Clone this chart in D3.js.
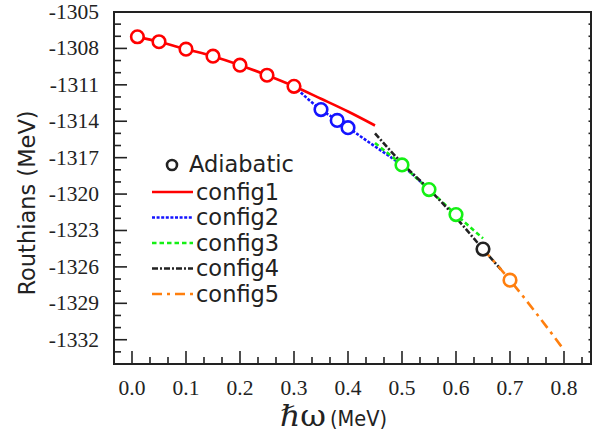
<!DOCTYPE html>
<html>
<head>
<meta charset="utf-8">
<script src="https://cdn.jsdelivr.net/npm/d3@7"></script>
<style>
  body { margin: 0; background: #fff; }
  svg { display: block; }
</style>
</head>
<body>
<div id="content"></div>
<script>
const width = 604;
const height = 432;

// config curves (hbar-omega in MeV, Routhian in MeV)
const config1 = [[0.01, -1307.05], [0.05, -1307.45], [0.1, -1308.06], [0.15, -1308.64], [0.2, -1309.38],
  [0.25, -1310.21], [0.3, -1311.12], [0.35, -1312.15], [0.4, -1313.2], [0.45, -1314.35]];
const config2 = [[0.3, -1311.12], [0.35, -1313.04], [0.38, -1313.93], [0.4, -1314.53], [0.45, -1316.08],
  [0.5, -1317.64], [0.55, -1319.63]];
const config3 = [[0.45, -1315.8], [0.5, -1317.6], [0.55, -1319.63], [0.6, -1321.69], [0.65, -1323.65]];
const config4 = [[0.45, -1315.0], [0.5, -1317.45], [0.55, -1319.6], [0.6, -1321.95], [0.65, -1324.53], [0.683, -1326.2]];
const config5 = [[0.65, -1324.53], [0.7, -1327.09], [0.75, -1329.9], [0.8, -1332.85]];

// adiabatic points with the config they belong to
const adiabatic = [
  [0.01, -1307.04, 'config1'], [0.05, -1307.45, 'config1'], [0.1, -1308.06, 'config1'],
  [0.15, -1308.64, 'config1'], [0.2, -1309.38, 'config1'], [0.25, -1310.21, 'config1'],
  [0.3, -1311.12, 'config1'],
  [0.35, -1313.04, 'config2'], [0.38, -1313.93, 'config2'], [0.4, -1314.53, 'config2'],
  [0.5, -1317.6, 'config3'], [0.55, -1319.63, 'config3'], [0.6, -1321.69, 'config3'],
  [0.65, -1324.53, 'config4'],
  [0.7, -1327.09, 'config5']
];

const xTicks = [0, 0.1, 0.2, 0.3, 0.4, 0.5, 0.6, 0.7, 0.8];
const yTicks = [-1305, -1308, -1311, -1314, -1317, -1320, -1323, -1326, -1329, -1332];

const series = [
  { name: 'config1', data: config1, color: '#ff0000', dash: null },
  { name: 'config2', data: config2, color: '#1414ff', dash: '3,1.6' },
  { name: 'config3', data: config3, color: '#14f014', dash: '4.5,3' },
  { name: 'config4', data: config4, color: '#222222', dash: '6,2,2,2' },
  { name: 'config5', data: config5, color: '#ff7f0e', dash: '10,5,3,5' }
];
const colorOf = {};
series.forEach((s) => { colorOf[s.name] = s.color; });

const plotLeft = 114;
const plotRight = 591;
const plotTop = 12;
const plotBottom = 364;
const frameColor = '#222';

const x = d3.scaleLinear().domain([-1 / 30, 0.85]).range([plotLeft, plotRight]);
const y = d3.scaleLinear().domain([-1334, -1305]).range([plotBottom, plotTop]);

const svg = d3.select('#content')
  .append('svg')
  .attr('width', width)
  .attr('height', height);

// minor ticks
const xMinor = d3.range(-1, 26).map(i => i / 30).filter(v => v > -0.034 && v < 0.85);
const yMinor = d3.range(-1333, -1305);

const ticks = svg.append('g').attr('stroke', frameColor).attr('stroke-width', 1.6);
ticks.selectAll('.xminor')
  .data(xMinor)
  .enter()
  .append('line')
  .attr('x1', d => x(d)).attr('x2', d => x(d))
  .attr('y1', plotBottom)
  .attr('y2', d => (xTicks.some(t => Math.abs(t - d) < 1e-6) ? plotBottom - 13 : plotBottom - 7));
ticks.selectAll('.yminor')
  .data(yMinor)
  .enter()
  .append('line')
  .attr('y1', d => y(d)).attr('y2', d => y(d))
  .attr('x1', plotLeft).attr('x2', d => (yTicks.includes(d) ? plotLeft + 13 : plotLeft + 7));
ticks.selectAll('.yright')
  .data(yMinor)
  .enter()
  .append('line')
  .attr('y1', d => y(d)).attr('y2', d => y(d))
  .attr('x1', plotRight).attr('x2', plotRight - 2.5);

// frame
svg.append('rect')
  .attr('x', plotLeft).attr('y', plotTop)
  .attr('width', plotRight - plotLeft).attr('height', plotBottom - plotTop)
  .attr('fill', 'none')
  .attr('stroke', frameColor)
  .attr('stroke-width', 2);

// tick labels
svg.append('g')
  .selectAll('text')
  .data(xTicks)
  .enter()
  .append('text')
  .attr('x', d => x(d))
  .attr('y', 395)
  .attr('text-anchor', 'middle')
  .attr('font-family', 'Liberation Serif, serif')
  .attr('font-size', 21.5)
  .attr('fill', '#222')
  .text(d => d3.format('.1f')(d));

svg.append('g')
  .selectAll('text')
  .data(yTicks)
  .enter()
  .append('text')
  .attr('x', 99)
  .attr('y', d => y(d) + 7)
  .attr('text-anchor', 'end')
  .attr('font-family', 'Liberation Serif, serif')
  .attr('font-size', 21.5)
  .attr('fill', '#222')
  .text(d => d);

// axis titles
svg.append('text')
  .attr('transform', 'translate(35,203) rotate(-90)')
  .attr('text-anchor', 'middle')
  .attr('font-family', 'DejaVu Sans, sans-serif')
  .attr('font-size', 22.5)
  .attr('fill', '#222')
  .text('Routhians (MeV)');

svg.append('text')
  .attr('x', 280)
  .attr('y', 426)
  .attr('font-family', 'DejaVu Serif, serif')
  .attr('font-size', 29)
  .attr('fill', '#222')
  .attr('textLength', 46)
  .attr('lengthAdjust', 'spacingAndGlyphs')
  .text('ℏω');
svg.append('text')
  .attr('x', 330)
  .attr('y', 426)
  .attr('font-family', 'DejaVu Sans, sans-serif')
  .attr('font-size', 21)
  .attr('fill', '#222')
  .attr('textLength', 57)
  .attr('lengthAdjust', 'spacingAndGlyphs')
  .text('(MeV)');

// curves
const line = d3.line()
  .x(d => x(d[0]))
  .y(d => y(d[1]))
  .curve(d3.curveMonotoneX);

svg.append('g')
  .selectAll('path')
  .data(series)
  .enter()
  .append('path')
  .attr('d', d => line(d.data))
  .attr('fill', 'none')
  .attr('stroke', d => d.color)
  .attr('stroke-width', 2.6)
  .attr('stroke-dasharray', d => d.dash);

// adiabatic circles
svg.append('g')
  .selectAll('circle')
  .data(adiabatic)
  .enter()
  .append('circle')
  .attr('cx', d => x(d[0]))
  .attr('cy', d => y(d[1]))
  .attr('r', 6.3)
  .attr('fill', '#fff')
  .attr('stroke', d => colorOf[d[2]])
  .attr('stroke-width', 2.6);

// legend
const legend = svg.append('g');
legend.append('circle')
  .attr('cx', 172)
  .attr('cy', 165)
  .attr('r', 5)
  .attr('fill', '#fff')
  .attr('stroke', '#222')
  .attr('stroke-width', 2.6);
legend.append('text')
  .attr('x', 189)
  .attr('y', 172)
  .attr('font-family', 'DejaVu Sans, sans-serif')
  .attr('font-size', 22.5)
  .attr('fill', '#222')
  .text('Adiabatic');

const rows = legend.selectAll('.row')
  .data(series)
  .enter()
  .append('g')
  .attr('transform', (d, i) => `translate(0,${192 + i * 25.5})`);
rows.append('line')
  .attr('x1', 152).attr('x2', 193)
  .attr('y1', 0).attr('y2', 0)
  .attr('stroke', d => d.color)
  .attr('stroke-width', 2.6)
  .attr('stroke-dasharray', d => d.dash);
rows.append('text')
  .attr('x', 196)
  .attr('y', 7.5)
  .attr('font-family', 'DejaVu Sans, sans-serif')
  .attr('font-size', 22.5)
  .attr('fill', '#222')
  .text(d => d.name);
</script>
</body>
</html>
